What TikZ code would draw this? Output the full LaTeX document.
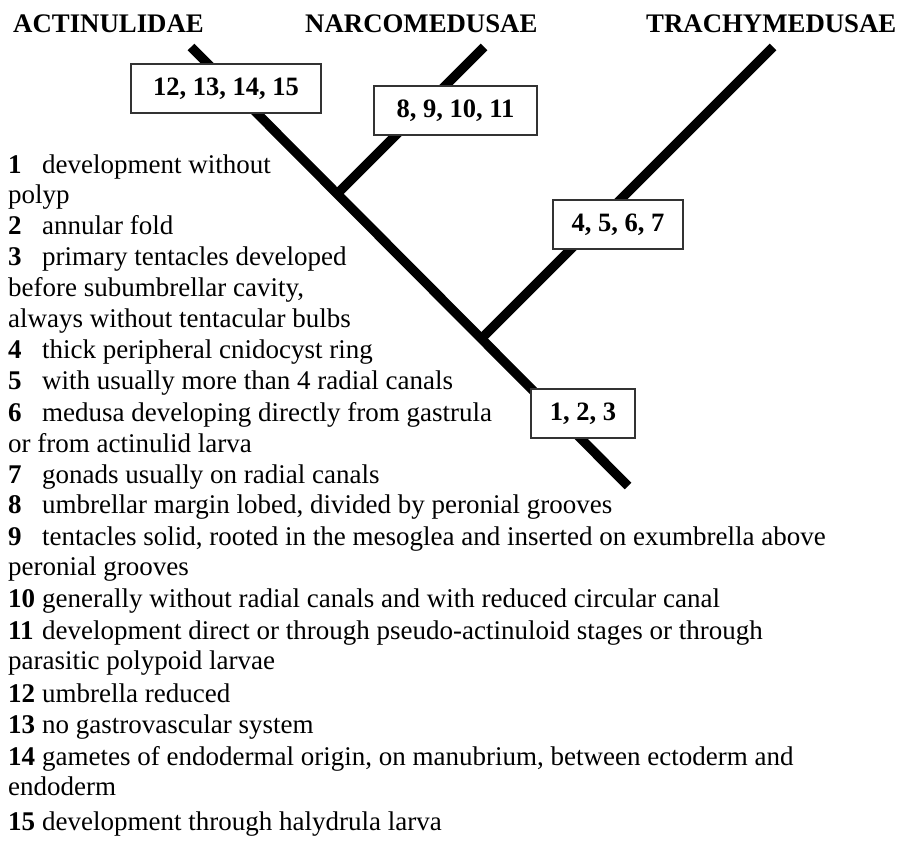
\documentclass[tikz,border=0pt]{standalone}
\usepackage{fontspec}
\setmainfont{Liberation Serif}
\usepackage{tikz}

\begin{document}
\begin{tikzpicture}[x=1bp, y=-1bp,
    branch/.style={line width=9.4bp, line cap=butt},
    clade/.style={anchor=base west, inner sep=0pt, font=\fontsize{26.8bp}{31bp}\selectfont\bfseries},
    marks/.style={draw=black!80, line width=1.3bp, fill=white, inner sep=0pt,
      font=\fontsize{26.5bp}{31bp}\selectfont\bfseries},
    item/.style={anchor=base west, inner sep=0pt, font=\fontsize{27bp}{31bp}\selectfont}]
  \useasboundingbox[fill=white] (0,0) rectangle (902,841);

  \node[clade] (actin) at (13,32) {ACTINULIDAE};
  \node[clade] (narco) at (305,32) {NARCOMEDUSAE};
  \node[clade] (trachy) at (646,32) {TRACHYMEDUSAE};

  \coordinate (tipA) at (191,47);
  \coordinate (tipN) at (484,47);
  \coordinate (tipT) at (773,47);
  \coordinate (root) at (628,486);
  \coordinate (forkN) at (337.5,193.5);
  \coordinate (forkT) at (482,338);

  \draw[branch] (tipA) -- (root);
  \draw[branch] (forkN) -- (tipN);
  \draw[branch] (forkT) -- (tipT);

  \node[marks, minimum width=190bp, minimum height=49bp] (m12) at (226,88.5) {12, 13, 14, 15};
  \node[marks, minimum width=163bp, minimum height=49bp] (m8) at (455.5,110.5) {8, 9, 10, 11};
  \node[marks, minimum width=130bp, minimum height=49bp] (m4) at (618,224.5) {4, 5, 6, 7};
  \node[marks, minimum width=104bp, minimum height=49bp] (m1) at (583,413.5) {1, 2, 3};

  \node[item] (c1) at (8,173) {\makebox[34bp][l]{\textbf{1}}development without};
  \node[item] (c1b) at (8,203) {polyp};
  \node[item] (c2) at (8,234) {\makebox[34bp][l]{\textbf{2}}annular fold};
  \node[item] (c3) at (8,265) {\makebox[34bp][l]{\textbf{3}}primary tentacles developed};
  \node[item] (c3b) at (8,296) {before subumbrellar cavity,};
  \node[item] (c3c) at (8,327) {always without tentacular bulbs};
  \node[item] (c4) at (8,358) {\makebox[34bp][l]{\textbf{4}}thick peripheral cnidocyst ring};
  \node[item] (c5) at (8,389) {\makebox[34bp][l]{\textbf{5}}with usually more than 4 radial canals};
  \node[item] (c6) at (8,421) {\makebox[34bp][l]{\textbf{6}}medusa developing directly from gastrula};
  \node[item] (c6b) at (8,452) {or from actinulid larva};
  \node[item] (c7) at (8,483) {\makebox[34bp][l]{\textbf{7}}gonads usually on radial canals};
  \node[item] (c8) at (8,513) {\makebox[34bp][l]{\textbf{8}}umbrellar margin lobed, divided by peronial grooves};
  \node[item] (c9) at (8,545) {\makebox[34bp][l]{\textbf{9}}tentacles solid, rooted in the mesoglea and inserted on exumbrella above};
  \node[item] (c9b) at (8,575) {peronial grooves};
  \node[item] (c10) at (8,607) {\makebox[34bp][l]{\textbf{10}}generally without radial canals and with reduced circular canal};
  \node[item] (c11) at (8,639) {\makebox[34bp][l]{\textbf{11}}development direct or through pseudo-actinuloid stages or through};
  \node[item] (c11b) at (8,669) {parasitic polypoid larvae};
  \node[item] (c12) at (8,702) {\makebox[34bp][l]{\textbf{12}}umbrella reduced};
  \node[item] (c13) at (8,733) {\makebox[34bp][l]{\textbf{13}}no gastrovascular system};
  \node[item] (c14) at (8,765) {\makebox[34bp][l]{\textbf{14}}gametes of endodermal origin, on manubrium, between ectoderm and};
  \node[item] (c14b) at (8,795) {endoderm};
  \node[item] (c15) at (8,830) {\makebox[34bp][l]{\textbf{15}}development through halydrula larva};
\end{tikzpicture}
\end{document}
